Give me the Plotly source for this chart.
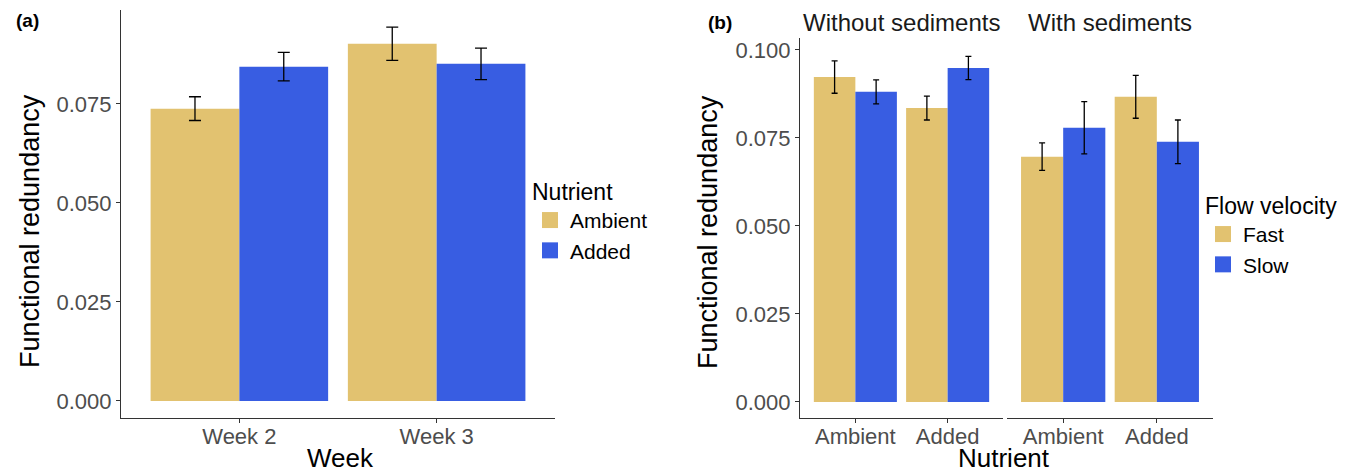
import plotly.graph_objects as go

# ---------- data ----------
weeks = ["Week 2", "Week 3"]
a_ambient = [0.0738, 0.0902]
a_ambient_se = [0.0030, 0.0042]
a_added = [0.0844, 0.0851]
a_added_se = [0.0036, 0.0040]

nutrients = ["Ambient", "Added"]
facets = ["Without sediments", "With sediments"]
b_fast_without = [0.0923, 0.0835]
b_fast_without_se = [0.0046, 0.0034]
b_slow_without = [0.0881, 0.0949]
b_slow_without_se = [0.0034, 0.0033]
b_fast_with = [0.0697, 0.0867]
b_fast_with_se = [0.0039, 0.0061]
b_slow_with = [0.0779, 0.0739]
b_slow_with_se = [0.0074, 0.0062]

GOLD = "#E2C270"
BLUE = "#385DE2"
FONT = "Liberation Sans, Arial, sans-serif"
TICKC = "#4D4D4D"
W, H = 1360, 473

fig = go.Figure()
pos = [1, 2]


def add_bars(xaxis, yaxis, y, se, color, offset, capw):
    fig.add_trace(go.Bar(
        x=pos, y=y, xaxis=xaxis, yaxis=yaxis, width=0.45, offset=offset,
        marker=dict(color=color, line=dict(width=0)), showlegend=False,
        error_y=dict(type="data", array=se, color="black", thickness=1.3, width=capw),
    ))


# Panel (a)
add_bars("x", "y", a_ambient, a_ambient_se, GOLD, -0.45, 6)
add_bars("x", "y", a_added, a_added_se, BLUE, 0.0, 6)
# Panel (b)
add_bars("x2", "y2", b_fast_without, b_fast_without_se, GOLD, -0.45, 3)
add_bars("x2", "y2", b_slow_without, b_slow_without_se, BLUE, 0.0, 3)
add_bars("x3", "y3", b_fast_with, b_fast_with_se, GOLD, -0.45, 3)
add_bars("x3", "y3", b_slow_with, b_slow_with_se, BLUE, 0.0, 3)

# legend entries
for name, col, leg in [("Ambient", GOLD, "legend"), ("Added", BLUE, "legend"),
                       ("Fast", GOLD, "legend2"), ("Slow", BLUE, "legend2")]:
    fig.add_trace(go.Scatter(
        x=[None], y=[None], mode="markers", name=name, legend=leg,
        marker=dict(symbol="square", size=16, color=col), xaxis="x", yaxis="y",
    ))

axis_common = dict(showgrid=False, zeroline=False, showline=True, linecolor="#333333",
                   linewidth=1.2, ticks="outside", ticklen=4, tickcolor="#333333",
                   tickfont=dict(family=FONT, size=22, color=TICKC))

ydom_a = [1 - 418 / H, 1 - 10 / H]
ydom_b = [1 - 418 / H, 1 - 38 / H]

fig.update_layout(
    width=W, height=H,
    margin=dict(l=0, r=0, t=0, b=0),
    paper_bgcolor="white", plot_bgcolor="white",
    barmode="overlay",
    font=dict(family=FONT, color="black"),
    xaxis=dict(domain=[121 / W, 555 / W], range=[0.4, 2.6], tickvals=pos, ticktext=weeks,
               anchor="y", ticklabelstandoff=-6, **axis_common),
    yaxis=dict(domain=ydom_a, range=[-0.0043, 0.0987], tickvals=[0, 0.025, 0.05, 0.075],
               ticktext=["0.000", "0.025", "0.050", "0.075"], anchor="x", **axis_common),
    xaxis2=dict(domain=[800 / W, 1003 / W], range=[0.4, 2.6], tickvals=pos, ticktext=nutrients,
                anchor="y2", ticklabelstandoff=-6, **axis_common),
    yaxis2=dict(domain=ydom_b, range=[-0.00455, 0.1034], tickvals=[0, 0.025, 0.05, 0.075, 0.1],
                ticktext=["0.000", "0.025", "0.050", "0.075", "0.100"], anchor="x2", **axis_common),
    xaxis3=dict(domain=[1007 / W, 1213 / W], range=[0.4, 2.6], tickvals=pos, ticktext=nutrients,
                anchor="y3", ticklabelstandoff=-6, **axis_common),
    yaxis3=dict(domain=ydom_b, range=[-0.00455, 0.1034], anchor="x3", showgrid=False, zeroline=False,
                showline=False, showticklabels=False, ticks=""),
    legend=dict(x=530 / W, y=1 - 170 / H, xanchor="left", yanchor="top",
                title=dict(text="Nutrient", font=dict(size=23)), font=dict(size=21),
                tracegroupgap=0, itemwidth=30, bgcolor="rgba(0,0,0,0)"),
    legend2=dict(x=1203 / W, y=1 - 184 / H, xanchor="left", yanchor="top",
                 title=dict(text="Flow velocity", font=dict(size=23)), font=dict(size=21),
                 tracegroupgap=0, itemwidth=30, bgcolor="rgba(0,0,0,0)"),
)


def ann(text, x, y, size, xref="paper", angle=0, color="black", xanchor="center"):
    return dict(text=text, x=x, y=y, xref=xref, yref="paper", xanchor=xanchor, yanchor="middle",
                showarrow=False, textangle=angle, font=dict(size=size, color=color))


annotations = [
    ann("<b>(a)</b>", 14 / W, 1 - 20 / H, 19, xanchor="left"),
    ann("<b>(b)</b>", 706 / W, 1 - 23 / H, 19, xanchor="left"),
    ann(facets[0], 0.5, 1 - 23 / H, 24, xref="x2 domain", color="#1A1A1A"),
    ann(facets[1], 0.5, 1 - 23 / H, 24, xref="x3 domain", color="#1A1A1A"),
    ann("Week", 340 / W, 1 - 458 / H, 26),
    ann("Nutrient", 1004 / W, 1 - 458 / H, 26),
    ann("Functional redundancy", 30 / W, 1 - 231 / H, 27, angle=-90),
    ann("Functional redundancy", 708 / W, 1 - 232 / H, 27, angle=-90),
]
fig.update_layout(annotations=annotations)

fig.write_html("out.html", config={"displayModeBar": False},
               post_script="document.body.style.margin='0';document.body.style.overflow='hidden';")
